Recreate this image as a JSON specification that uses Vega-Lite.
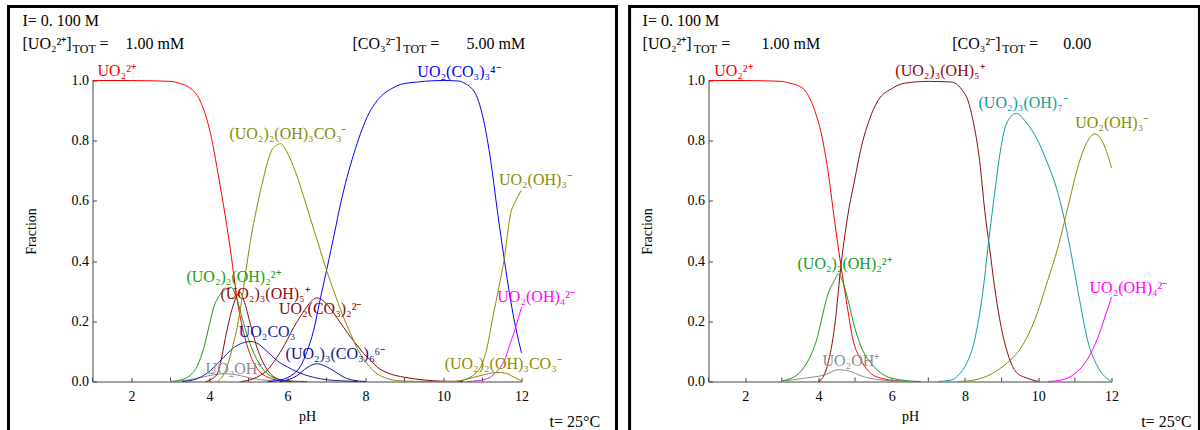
{
  "$schema": "https://vega.github.io/schema/vega-lite/v6.json",
  "padding": {"left": 6.5, "top": 4.5, "right": 0, "bottom": 0},
  "config": {
    "view": {"stroke": null},
    "font": "Liberation Serif",
    "axis": {"labelFont": "Liberation Serif", "titleFont": "Liberation Serif", "labelFontSize": 14, "titleFontSize": 14, "titleFontWeight": "normal", "labelColor": "#000", "titleColor": "#000", "domainColor": "#444", "tickColor": "#444", "grid": false, "tickSize": -4}
  },
  "datasets": {
    "minorTicks": [{"x":1},{"x":3},{"x":5},{"x":7},{"x":9},{"x":11}],
    "curves": [
      {"p":"L","s":"UO₂²⁺","x":1,"y":1},{"p":"L","s":"UO₂²⁺","x":2,"y":1},{"p":"L","s":"UO₂²⁺","x":2.5,"y":0.999},{"p":"L","s":"UO₂²⁺","x":3,"y":0.997},{"p":"L","s":"UO₂²⁺","x":3.25,"y":0.99},{"p":"L","s":"UO₂²⁺","x":3.5,"y":0.975},{"p":"L","s":"UO₂²⁺","x":3.75,"y":0.935},{"p":"L","s":"UO₂²⁺","x":4,"y":0.838},{"p":"L","s":"UO₂²⁺","x":4.25,"y":0.668},{"p":"L","s":"UO₂²⁺","x":4.5,"y":0.47},{"p":"L","s":"UO₂²⁺","x":4.75,"y":0.24},{"p":"L","s":"UO₂²⁺","x":5,"y":0.105},{"p":"L","s":"UO₂²⁺","x":5.25,"y":0.038},{"p":"L","s":"UO₂²⁺","x":5.5,"y":0.014},{"p":"L","s":"UO₂²⁺","x":5.75,"y":0.004},{"p":"L","s":"UO₂²⁺","x":6,"y":0.001},{"p":"L","s":"UO₂²⁺","x":6.5,"y":0},
      {"p":"L","s":"UO₂OH⁺","x":3,"y":0},{"p":"L","s":"UO₂OH⁺","x":3.5,"y":0.006},{"p":"L","s":"UO₂OH⁺","x":3.8,"y":0.014},{"p":"L","s":"UO₂OH⁺","x":4.1,"y":0.022},{"p":"L","s":"UO₂OH⁺","x":4.4,"y":0.026},{"p":"L","s":"UO₂OH⁺","x":4.7,"y":0.022},{"p":"L","s":"UO₂OH⁺","x":5,"y":0.013},{"p":"L","s":"UO₂OH⁺","x":5.3,"y":0.006},{"p":"L","s":"UO₂OH⁺","x":5.7,"y":0.002},{"p":"L","s":"UO₂OH⁺","x":6,"y":0},
      {"p":"L","s":"(UO₂)₂(OH)₂²⁺","x":3,"y":0},{"p":"L","s":"(UO₂)₂(OH)₂²⁺","x":3.25,"y":0.005},{"p":"L","s":"(UO₂)₂(OH)₂²⁺","x":3.5,"y":0.02},{"p":"L","s":"(UO₂)₂(OH)₂²⁺","x":3.7,"y":0.055},{"p":"L","s":"(UO₂)₂(OH)₂²⁺","x":3.85,"y":0.11},{"p":"L","s":"(UO₂)₂(OH)₂²⁺","x":4,"y":0.19},{"p":"L","s":"(UO₂)₂(OH)₂²⁺","x":4.11,"y":0.247},{"p":"L","s":"(UO₂)₂(OH)₂²⁺","x":4.25,"y":0.285},{"p":"L","s":"(UO₂)₂(OH)₂²⁺","x":4.4,"y":0.305},{"p":"L","s":"(UO₂)₂(OH)₂²⁺","x":4.55,"y":0.313},{"p":"L","s":"(UO₂)₂(OH)₂²⁺","x":4.7,"y":0.275},{"p":"L","s":"(UO₂)₂(OH)₂²⁺","x":4.85,"y":0.205},{"p":"L","s":"(UO₂)₂(OH)₂²⁺","x":5,"y":0.14},{"p":"L","s":"(UO₂)₂(OH)₂²⁺","x":5.15,"y":0.09},{"p":"L","s":"(UO₂)₂(OH)₂²⁺","x":5.4,"y":0.037},{"p":"L","s":"(UO₂)₂(OH)₂²⁺","x":5.65,"y":0.012},{"p":"L","s":"(UO₂)₂(OH)₂²⁺","x":6,"y":0.002},{"p":"L","s":"(UO₂)₂(OH)₂²⁺","x":6.3,"y":0},
      {"p":"L","s":"(UO₂)₃(OH)₅⁺","x":3.9,"y":0},{"p":"L","s":"(UO₂)₃(OH)₅⁺","x":4.1,"y":0.012},{"p":"L","s":"(UO₂)₃(OH)₅⁺","x":4.2,"y":0.026},{"p":"L","s":"(UO₂)₃(OH)₅⁺","x":4.28,"y":0.06},{"p":"L","s":"(UO₂)₃(OH)₅⁺","x":4.4,"y":0.14},{"p":"L","s":"(UO₂)₃(OH)₅⁺","x":4.5,"y":0.2},{"p":"L","s":"(UO₂)₃(OH)₅⁺","x":4.6,"y":0.25},{"p":"L","s":"(UO₂)₃(OH)₅⁺","x":4.7,"y":0.285},{"p":"L","s":"(UO₂)₃(OH)₅⁺","x":4.78,"y":0.297},{"p":"L","s":"(UO₂)₃(OH)₅⁺","x":4.88,"y":0.27},{"p":"L","s":"(UO₂)₃(OH)₅⁺","x":5.05,"y":0.19},{"p":"L","s":"(UO₂)₃(OH)₅⁺","x":5.2,"y":0.12},{"p":"L","s":"(UO₂)₃(OH)₅⁺","x":5.31,"y":0.081},{"p":"L","s":"(UO₂)₃(OH)₅⁺","x":5.45,"y":0.045},{"p":"L","s":"(UO₂)₃(OH)₅⁺","x":5.56,"y":0.026},{"p":"L","s":"(UO₂)₃(OH)₅⁺","x":5.8,"y":0.006},{"p":"L","s":"(UO₂)₃(OH)₅⁺","x":6.1,"y":0},
      {"p":"L","s":"UO₂CO₃","x":3.3,"y":0},{"p":"L","s":"UO₂CO₃","x":3.6,"y":0.006},{"p":"L","s":"UO₂CO₃","x":3.85,"y":0.02},{"p":"L","s":"UO₂CO₃","x":4.03,"y":0.037},{"p":"L","s":"UO₂CO₃","x":4.25,"y":0.065},{"p":"L","s":"UO₂CO₃","x":4.45,"y":0.092},{"p":"L","s":"UO₂CO₃","x":4.65,"y":0.115},{"p":"L","s":"UO₂CO₃","x":4.85,"y":0.128},{"p":"L","s":"UO₂CO₃","x":5.05,"y":0.133},{"p":"L","s":"UO₂CO₃","x":5.25,"y":0.125},{"p":"L","s":"UO₂CO₃","x":5.4,"y":0.109},{"p":"L","s":"UO₂CO₃","x":5.6,"y":0.085},{"p":"L","s":"UO₂CO₃","x":5.75,"y":0.068},{"p":"L","s":"UO₂CO₃","x":6,"y":0.048},{"p":"L","s":"UO₂CO₃","x":6.2,"y":0.035},{"p":"L","s":"UO₂CO₃","x":6.45,"y":0.022},{"p":"L","s":"UO₂CO₃","x":6.7,"y":0.013},{"p":"L","s":"UO₂CO₃","x":7,"y":0.006},{"p":"L","s":"UO₂CO₃","x":7.4,"y":0.002},{"p":"L","s":"UO₂CO₃","x":7.8,"y":0},
      {"p":"L","s":"UO₂(CO₃)₂²⁻","x":4.8,"y":0},{"p":"L","s":"UO₂(CO₃)₂²⁻","x":5.1,"y":0.008},{"p":"L","s":"UO₂(CO₃)₂²⁻","x":5.3,"y":0.02},{"p":"L","s":"UO₂(CO₃)₂²⁻","x":5.5,"y":0.04},{"p":"L","s":"UO₂(CO₃)₂²⁻","x":5.7,"y":0.075},{"p":"L","s":"UO₂(CO₃)₂²⁻","x":5.85,"y":0.105},{"p":"L","s":"UO₂(CO₃)₂²⁻","x":6,"y":0.14},{"p":"L","s":"UO₂(CO₃)₂²⁻","x":6.16,"y":0.18},{"p":"L","s":"UO₂(CO₃)₂²⁻","x":6.3,"y":0.21},{"p":"L","s":"UO₂(CO₃)₂²⁻","x":6.45,"y":0.24},{"p":"L","s":"UO₂(CO₃)₂²⁻","x":6.6,"y":0.265},{"p":"L","s":"UO₂(CO₃)₂²⁻","x":6.75,"y":0.278},{"p":"L","s":"UO₂(CO₃)₂²⁻","x":6.9,"y":0.27},{"p":"L","s":"UO₂(CO₃)₂²⁻","x":7.05,"y":0.25},{"p":"L","s":"UO₂(CO₃)₂²⁻","x":7.25,"y":0.215},{"p":"L","s":"UO₂(CO₃)₂²⁻","x":7.45,"y":0.178},{"p":"L","s":"UO₂(CO₃)₂²⁻","x":7.62,"y":0.147},{"p":"L","s":"UO₂(CO₃)₂²⁻","x":7.8,"y":0.118},{"p":"L","s":"UO₂(CO₃)₂²⁻","x":7.96,"y":0.092},{"p":"L","s":"UO₂(CO₃)₂²⁻","x":8.15,"y":0.068},{"p":"L","s":"UO₂(CO₃)₂²⁻","x":8.3,"y":0.048},{"p":"L","s":"UO₂(CO₃)₂²⁻","x":8.6,"y":0.027},{"p":"L","s":"UO₂(CO₃)₂²⁻","x":9,"y":0.014},{"p":"L","s":"UO₂(CO₃)₂²⁻","x":9.5,"y":0.005},{"p":"L","s":"UO₂(CO₃)₂²⁻","x":10,"y":0.001},{"p":"L","s":"UO₂(CO₃)₂²⁻","x":10.5,"y":0},
      {"p":"L","s":"(UO₂)₃(CO₃)₆⁶⁻","x":5.8,"y":0},{"p":"L","s":"(UO₂)₃(CO₃)₆⁶⁻","x":6,"y":0.005},{"p":"L","s":"(UO₂)₃(CO₃)₆⁶⁻","x":6.25,"y":0.02},{"p":"L","s":"(UO₂)₃(CO₃)₆⁶⁻","x":6.5,"y":0.046},{"p":"L","s":"(UO₂)₃(CO₃)₆⁶⁻","x":6.75,"y":0.059},{"p":"L","s":"(UO₂)₃(CO₃)₆⁶⁻","x":6.95,"y":0.052},{"p":"L","s":"(UO₂)₃(CO₃)₆⁶⁻","x":7.1,"y":0.042},{"p":"L","s":"(UO₂)₃(CO₃)₆⁶⁻","x":7.3,"y":0.026},{"p":"L","s":"(UO₂)₃(CO₃)₆⁶⁻","x":7.45,"y":0.014},{"p":"L","s":"(UO₂)₃(CO₃)₆⁶⁻","x":7.7,"y":0.004},{"p":"L","s":"(UO₂)₃(CO₃)₆⁶⁻","x":8,"y":0},
      {"p":"L","s":"UO₂(CO₃)₃⁴⁻","x":5.5,"y":0},{"p":"L","s":"UO₂(CO₃)₃⁴⁻","x":5.82,"y":0.005},{"p":"L","s":"UO₂(CO₃)₃⁴⁻","x":6,"y":0.013},{"p":"L","s":"UO₂(CO₃)₃⁴⁻","x":6.15,"y":0.025},{"p":"L","s":"UO₂(CO₃)₃⁴⁻","x":6.33,"y":0.05},{"p":"L","s":"UO₂(CO₃)₃⁴⁻","x":6.5,"y":0.1},{"p":"L","s":"UO₂(CO₃)₃⁴⁻","x":6.67,"y":0.17},{"p":"L","s":"UO₂(CO₃)₃⁴⁻","x":6.85,"y":0.28},{"p":"L","s":"UO₂(CO₃)₃⁴⁻","x":7.02,"y":0.38},{"p":"L","s":"UO₂(CO₃)₃⁴⁻","x":7.2,"y":0.49},{"p":"L","s":"UO₂(CO₃)₃⁴⁻","x":7.36,"y":0.59},{"p":"L","s":"UO₂(CO₃)₃⁴⁻","x":7.53,"y":0.68},{"p":"L","s":"UO₂(CO₃)₃⁴⁻","x":7.7,"y":0.756},{"p":"L","s":"UO₂(CO₃)₃⁴⁻","x":7.87,"y":0.823},{"p":"L","s":"UO₂(CO₃)₃⁴⁻","x":8.04,"y":0.878},{"p":"L","s":"UO₂(CO₃)₃⁴⁻","x":8.25,"y":0.925},{"p":"L","s":"UO₂(CO₃)₃⁴⁻","x":8.47,"y":0.956},{"p":"L","s":"UO₂(CO₃)₃⁴⁻","x":8.7,"y":0.975},{"p":"L","s":"UO₂(CO₃)₃⁴⁻","x":8.9,"y":0.987},{"p":"L","s":"UO₂(CO₃)₃⁴⁻","x":9.33,"y":0.995},{"p":"L","s":"UO₂(CO₃)₃⁴⁻","x":9.7,"y":0.999},{"p":"L","s":"UO₂(CO₃)₃⁴⁻","x":10,"y":1},{"p":"L","s":"UO₂(CO₃)₃⁴⁻","x":10.4,"y":0.998},{"p":"L","s":"UO₂(CO₃)₃⁴⁻","x":10.55,"y":0.99},{"p":"L","s":"UO₂(CO₃)₃⁴⁻","x":10.69,"y":0.978},{"p":"L","s":"UO₂(CO₃)₃⁴⁻","x":10.86,"y":0.945},{"p":"L","s":"UO₂(CO₃)₃⁴⁻","x":11.03,"y":0.867},{"p":"L","s":"UO₂(CO₃)₃⁴⁻","x":11.21,"y":0.734},{"p":"L","s":"UO₂(CO₃)₃⁴⁻","x":11.38,"y":0.568},{"p":"L","s":"UO₂(CO₃)₃⁴⁻","x":11.55,"y":0.413},{"p":"L","s":"UO₂(CO₃)₃⁴⁻","x":11.72,"y":0.27},{"p":"L","s":"UO₂(CO₃)₃⁴⁻","x":11.85,"y":0.18},{"p":"L","s":"UO₂(CO₃)₃⁴⁻","x":12,"y":0.095},
      {"p":"L","s":"(UO₂)₂(OH)₃CO₃⁻","x":4.2,"y":0},{"p":"L","s":"(UO₂)₂(OH)₃CO₃⁻","x":4.35,"y":0.02},{"p":"L","s":"(UO₂)₂(OH)₃CO₃⁻","x":4.5,"y":0.07},{"p":"L","s":"(UO₂)₂(OH)₃CO₃⁻","x":4.6,"y":0.12},{"p":"L","s":"(UO₂)₂(OH)₃CO₃⁻","x":4.71,"y":0.18},{"p":"L","s":"(UO₂)₂(OH)₃CO₃⁻","x":4.85,"y":0.29},{"p":"L","s":"(UO₂)₂(OH)₃CO₃⁻","x":4.97,"y":0.4},{"p":"L","s":"(UO₂)₂(OH)₃CO₃⁻","x":5.08,"y":0.49},{"p":"L","s":"(UO₂)₂(OH)₃CO₃⁻","x":5.18,"y":0.557},{"p":"L","s":"(UO₂)₂(OH)₃CO₃⁻","x":5.3,"y":0.63},{"p":"L","s":"(UO₂)₂(OH)₃CO₃⁻","x":5.39,"y":0.679},{"p":"L","s":"(UO₂)₂(OH)₃CO₃⁻","x":5.5,"y":0.735},{"p":"L","s":"(UO₂)₂(OH)₃CO₃⁻","x":5.61,"y":0.772},{"p":"L","s":"(UO₂)₂(OH)₃CO₃⁻","x":5.72,"y":0.785},{"p":"L","s":"(UO₂)₂(OH)₃CO₃⁻","x":5.82,"y":0.79},{"p":"L","s":"(UO₂)₂(OH)₃CO₃⁻","x":5.93,"y":0.775},{"p":"L","s":"(UO₂)₂(OH)₃CO₃⁻","x":6.03,"y":0.751},{"p":"L","s":"(UO₂)₂(OH)₃CO₃⁻","x":6.15,"y":0.715},{"p":"L","s":"(UO₂)₂(OH)₃CO₃⁻","x":6.25,"y":0.68},{"p":"L","s":"(UO₂)₂(OH)₃CO₃⁻","x":6.4,"y":0.62},{"p":"L","s":"(UO₂)₂(OH)₃CO₃⁻","x":6.59,"y":0.54},{"p":"L","s":"(UO₂)₂(OH)₃CO₃⁻","x":6.76,"y":0.47},{"p":"L","s":"(UO₂)₂(OH)₃CO₃⁻","x":7,"y":0.37},{"p":"L","s":"(UO₂)₂(OH)₃CO₃⁻","x":7.19,"y":0.3},{"p":"L","s":"(UO₂)₂(OH)₃CO₃⁻","x":7.4,"y":0.225},{"p":"L","s":"(UO₂)₂(OH)₃CO₃⁻","x":7.62,"y":0.158},{"p":"L","s":"(UO₂)₂(OH)₃CO₃⁻","x":7.85,"y":0.095},{"p":"L","s":"(UO₂)₂(OH)₃CO₃⁻","x":8.04,"y":0.059},{"p":"L","s":"(UO₂)₂(OH)₃CO₃⁻","x":8.25,"y":0.03},{"p":"L","s":"(UO₂)₂(OH)₃CO₃⁻","x":8.47,"y":0.014},{"p":"L","s":"(UO₂)₂(OH)₃CO₃⁻","x":8.9,"y":0.002},{"p":"L","s":"(UO₂)₂(OH)₃CO₃⁻","x":9.5,"y":0},{"p":"L","s":"(UO₂)₂(OH)₃CO₃⁻","x":10.3,"y":0},{"p":"L","s":"(UO₂)₂(OH)₃CO₃⁻","x":10.6,"y":0.008},{"p":"L","s":"(UO₂)₂(OH)₃CO₃⁻","x":10.9,"y":0.018},{"p":"L","s":"(UO₂)₂(OH)₃CO₃⁻","x":11.15,"y":0.026},{"p":"L","s":"(UO₂)₂(OH)₃CO₃⁻","x":11.4,"y":0.03},{"p":"L","s":"(UO₂)₂(OH)₃CO₃⁻","x":11.6,"y":0.027},{"p":"L","s":"(UO₂)₂(OH)₃CO₃⁻","x":11.8,"y":0.015},{"p":"L","s":"(UO₂)₂(OH)₃CO₃⁻","x":12,"y":0.002},
      {"p":"L","s":"UO₂(OH)₃⁻","x":10.2,"y":0},{"p":"L","s":"UO₂(OH)₃⁻","x":10.45,"y":0.003},{"p":"L","s":"UO₂(OH)₃⁻","x":10.6,"y":0.009},{"p":"L","s":"UO₂(OH)₃⁻","x":10.8,"y":0.025},{"p":"L","s":"UO₂(OH)₃⁻","x":10.95,"y":0.048},{"p":"L","s":"UO₂(OH)₃⁻","x":11.12,"y":0.114},{"p":"L","s":"UO₂(OH)₃⁻","x":11.25,"y":0.203},{"p":"L","s":"UO₂(OH)₃⁻","x":11.42,"y":0.313},{"p":"L","s":"UO₂(OH)₃⁻","x":11.55,"y":0.4},{"p":"L","s":"UO₂(OH)₃⁻","x":11.72,"y":0.557},{"p":"L","s":"UO₂(OH)₃⁻","x":11.85,"y":0.6},{"p":"L","s":"UO₂(OH)₃⁻","x":12,"y":0.635},
      {"p":"L","s":"UO₂(OH)₄²⁻","x":10.6,"y":0},{"p":"L","s":"UO₂(OH)₄²⁻","x":10.9,"y":0.003},{"p":"L","s":"UO₂(OH)₄²⁻","x":11.12,"y":0.009},{"p":"L","s":"UO₂(OH)₄²⁻","x":11.3,"y":0.025},{"p":"L","s":"UO₂(OH)₄²⁻","x":11.46,"y":0.048},{"p":"L","s":"UO₂(OH)₄²⁻","x":11.58,"y":0.075},{"p":"L","s":"UO₂(OH)₄²⁻","x":11.68,"y":0.114},{"p":"L","s":"UO₂(OH)₄²⁻","x":11.85,"y":0.18},{"p":"L","s":"UO₂(OH)₄²⁻","x":12,"y":0.247},

      {"p":"R","s":"UO₂²⁺","x":1,"y":1},{"p":"R","s":"UO₂²⁺","x":2,"y":1},{"p":"R","s":"UO₂²⁺","x":2.5,"y":0.999},{"p":"R","s":"UO₂²⁺","x":3,"y":0.997},{"p":"R","s":"UO₂²⁺","x":3.25,"y":0.99},{"p":"R","s":"UO₂²⁺","x":3.45,"y":0.983},{"p":"R","s":"UO₂²⁺","x":3.67,"y":0.961},{"p":"R","s":"UO₂²⁺","x":3.9,"y":0.9},{"p":"R","s":"UO₂²⁺","x":4.08,"y":0.823},{"p":"R","s":"UO₂²⁺","x":4.26,"y":0.7},{"p":"R","s":"UO₂²⁺","x":4.44,"y":0.535},{"p":"R","s":"UO₂²⁺","x":4.58,"y":0.413},{"p":"R","s":"UO₂²⁺","x":4.76,"y":0.27},{"p":"R","s":"UO₂²⁺","x":4.95,"y":0.136},{"p":"R","s":"UO₂²⁺","x":5.17,"y":0.07},{"p":"R","s":"UO₂²⁺","x":5.45,"y":0.025},{"p":"R","s":"UO₂²⁺","x":5.81,"y":0.008},{"p":"R","s":"UO₂²⁺","x":6.17,"y":0.002},{"p":"R","s":"UO₂²⁺","x":6.5,"y":0},
      {"p":"R","s":"UO₂OH⁺","x":3,"y":0},{"p":"R","s":"UO₂OH⁺","x":3.54,"y":0.01},{"p":"R","s":"UO₂OH⁺","x":4.17,"y":0.022},{"p":"R","s":"UO₂OH⁺","x":4.54,"y":0.039},{"p":"R","s":"UO₂OH⁺","x":4.76,"y":0.037},{"p":"R","s":"UO₂OH⁺","x":5.26,"y":0.015},{"p":"R","s":"UO₂OH⁺","x":5.8,"y":0.004},{"p":"R","s":"UO₂OH⁺","x":6.5,"y":0},
      {"p":"R","s":"(UO₂)₂(OH)₂²⁺","x":3,"y":0.002},{"p":"R","s":"(UO₂)₂(OH)₂²⁺","x":3.2,"y":0.008},{"p":"R","s":"(UO₂)₂(OH)₂²⁺","x":3.45,"y":0.025},{"p":"R","s":"(UO₂)₂(OH)₂²⁺","x":3.65,"y":0.055},{"p":"R","s":"(UO₂)₂(OH)₂²⁺","x":3.81,"y":0.092},{"p":"R","s":"(UO₂)₂(OH)₂²⁺","x":4,"y":0.16},{"p":"R","s":"(UO₂)₂(OH)₂²⁺","x":4.08,"y":0.203},{"p":"R","s":"(UO₂)₂(OH)₂²⁺","x":4.26,"y":0.29},{"p":"R","s":"(UO₂)₂(OH)₂²⁺","x":4.44,"y":0.336},{"p":"R","s":"(UO₂)₂(OH)₂²⁺","x":4.54,"y":0.358},{"p":"R","s":"(UO₂)₂(OH)₂²⁺","x":4.67,"y":0.33},{"p":"R","s":"(UO₂)₂(OH)₂²⁺","x":4.81,"y":0.27},{"p":"R","s":"(UO₂)₂(OH)₂²⁺","x":4.99,"y":0.18},{"p":"R","s":"(UO₂)₂(OH)₂²⁺","x":5.17,"y":0.114},{"p":"R","s":"(UO₂)₂(OH)₂²⁺","x":5.45,"y":0.059},{"p":"R","s":"(UO₂)₂(OH)₂²⁺","x":5.81,"y":0.02},{"p":"R","s":"(UO₂)₂(OH)₂²⁺","x":6.26,"y":0.005},{"p":"R","s":"(UO₂)₂(OH)₂²⁺","x":6.8,"y":0},
      {"p":"R","s":"(UO₂)₃(OH)₅⁺","x":3.99,"y":0},{"p":"R","s":"(UO₂)₃(OH)₅⁺","x":4.1,"y":0.01},{"p":"R","s":"(UO₂)₃(OH)₅⁺","x":4.26,"y":0.059},{"p":"R","s":"(UO₂)₃(OH)₅⁺","x":4.44,"y":0.18},{"p":"R","s":"(UO₂)₃(OH)₅⁺","x":4.63,"y":0.4},{"p":"R","s":"(UO₂)₃(OH)₅⁺","x":4.81,"y":0.557},{"p":"R","s":"(UO₂)₃(OH)₅⁺","x":4.99,"y":0.67},{"p":"R","s":"(UO₂)₃(OH)₅⁺","x":5.17,"y":0.778},{"p":"R","s":"(UO₂)₃(OH)₅⁺","x":5.4,"y":0.873},{"p":"R","s":"(UO₂)₃(OH)₅⁺","x":5.63,"y":0.934},{"p":"R","s":"(UO₂)₃(OH)₅⁺","x":5.99,"y":0.972},{"p":"R","s":"(UO₂)₃(OH)₅⁺","x":6.35,"y":0.991},{"p":"R","s":"(UO₂)₃(OH)₅⁺","x":7,"y":0.997},{"p":"R","s":"(UO₂)₃(OH)₅⁺","x":7.63,"y":0.995},{"p":"R","s":"(UO₂)₃(OH)₅⁺","x":7.9,"y":0.972},{"p":"R","s":"(UO₂)₃(OH)₅⁺","x":8.08,"y":0.934},{"p":"R","s":"(UO₂)₃(OH)₅⁺","x":8.22,"y":0.867},{"p":"R","s":"(UO₂)₃(OH)₅⁺","x":8.4,"y":0.734},{"p":"R","s":"(UO₂)₃(OH)₅⁺","x":8.54,"y":0.568},{"p":"R","s":"(UO₂)₃(OH)₅⁺","x":8.67,"y":0.446},{"p":"R","s":"(UO₂)₃(OH)₅⁺","x":8.81,"y":0.313},{"p":"R","s":"(UO₂)₃(OH)₅⁺","x":8.99,"y":0.18},{"p":"R","s":"(UO₂)₃(OH)₅⁺","x":9.17,"y":0.092},{"p":"R","s":"(UO₂)₃(OH)₅⁺","x":9.4,"y":0.031},{"p":"R","s":"(UO₂)₃(OH)₅⁺","x":9.72,"y":0.01},{"p":"R","s":"(UO₂)₃(OH)₅⁺","x":10,"y":0},
      {"p":"R","s":"(UO₂)₃(OH)₇⁻","x":7.26,"y":0},{"p":"R","s":"(UO₂)₃(OH)₇⁻","x":7.63,"y":0.005},{"p":"R","s":"(UO₂)₃(OH)₇⁻","x":7.85,"y":0.025},{"p":"R","s":"(UO₂)₃(OH)₇⁻","x":8.04,"y":0.059},{"p":"R","s":"(UO₂)₃(OH)₇⁻","x":8.26,"y":0.136},{"p":"R","s":"(UO₂)₃(OH)₇⁻","x":8.49,"y":0.3},{"p":"R","s":"(UO₂)₃(OH)₇⁻","x":8.67,"y":0.49},{"p":"R","s":"(UO₂)₃(OH)₇⁻","x":8.81,"y":0.624},{"p":"R","s":"(UO₂)₃(OH)₇⁻","x":8.94,"y":0.745},{"p":"R","s":"(UO₂)₃(OH)₇⁻","x":9.13,"y":0.856},{"p":"R","s":"(UO₂)₃(OH)₇⁻","x":9.4,"y":0.891},{"p":"R","s":"(UO₂)₃(OH)₇⁻","x":9.67,"y":0.861},{"p":"R","s":"(UO₂)₃(OH)₇⁻","x":9.99,"y":0.8},{"p":"R","s":"(UO₂)₃(OH)₇⁻","x":10.26,"y":0.723},{"p":"R","s":"(UO₂)₃(OH)₇⁻","x":10.49,"y":0.646},{"p":"R","s":"(UO₂)₃(OH)₇⁻","x":10.72,"y":0.535},{"p":"R","s":"(UO₂)₃(OH)₇⁻","x":10.9,"y":0.424},{"p":"R","s":"(UO₂)₃(OH)₇⁻","x":11.13,"y":0.27},{"p":"R","s":"(UO₂)₃(OH)₇⁻","x":11.35,"y":0.136},{"p":"R","s":"(UO₂)₃(OH)₇⁻","x":11.63,"y":0.048},{"p":"R","s":"(UO₂)₃(OH)₇⁻","x":12,"y":0},
      {"p":"R","s":"UO₂(OH)₃⁻","x":7.81,"y":0},{"p":"R","s":"UO₂(OH)₃⁻","x":8.26,"y":0.005},{"p":"R","s":"UO₂(OH)₃⁻","x":8.72,"y":0.025},{"p":"R","s":"UO₂(OH)₃⁻","x":9.17,"y":0.064},{"p":"R","s":"UO₂(OH)₃⁻","x":9.54,"y":0.114},{"p":"R","s":"UO₂(OH)₃⁻","x":9.9,"y":0.203},{"p":"R","s":"UO₂(OH)₃⁻","x":10.26,"y":0.336},{"p":"R","s":"UO₂(OH)₃⁻","x":10.54,"y":0.446},{"p":"R","s":"UO₂(OH)₃⁻","x":10.81,"y":0.579},{"p":"R","s":"UO₂(OH)₃⁻","x":11.08,"y":0.712},{"p":"R","s":"UO₂(OH)₃⁻","x":11.31,"y":0.79},{"p":"R","s":"UO₂(OH)₃⁻","x":11.55,"y":0.823},{"p":"R","s":"UO₂(OH)₃⁻","x":11.78,"y":0.79},{"p":"R","s":"UO₂(OH)₃⁻","x":12,"y":0.71},
      {"p":"R","s":"UO₂(OH)₄²⁻","x":10.26,"y":0},{"p":"R","s":"UO₂(OH)₄²⁻","x":10.63,"y":0.005},{"p":"R","s":"UO₂(OH)₄²⁻","x":10.99,"y":0.025},{"p":"R","s":"UO₂(OH)₄²⁻","x":11.35,"y":0.075},{"p":"R","s":"UO₂(OH)₄²⁻","x":11.63,"y":0.147},{"p":"R","s":"UO₂(OH)₄²⁻","x":11.85,"y":0.225},{"p":"R","s":"UO₂(OH)₄²⁻","x":12,"y":0.28}
    ],
    "labels": [
      {"p":"L","s":"UO₂²⁺","x":1.13,"y":1.033},
      {"p":"L","s":"(UO₂)₂(OH)₃CO₃⁻","x":4.51,"y":0.823},
      {"p":"L","s":"UO₂(CO₃)₃⁴⁻","x":9.33,"y":1.028},
      {"p":"L","s":"UO₂(OH)₃⁻","x":11.42,"y":0.668},
      {"p":"L","s":"UO₂(OH)₄²⁻","x":11.38,"y":0.28},
      {"p":"L","s":"(UO₂)₂(OH)₃CO₃⁻","x":10.03,"y":0.059},
      {"p":"L","s":"(UO₂)₂(OH)₂²⁺","x":3.41,"y":0.347},
      {"p":"L","s":"(UO₂)₃(OH)₅⁺","x":4.28,"y":0.291},
      {"p":"L","s":"UO₂(CO₃)₂²⁻","x":5.78,"y":0.241},
      {"p":"L","s":"UO₂CO₃","x":4.75,"y":0.164},
      {"p":"L","s":"(UO₂)₃(CO₃)₆⁶⁻","x":5.95,"y":0.09},
      {"p":"L","s":"UO₂OH⁺","x":3.9,"y":0.042},
      {"p":"R","s":"UO₂²⁺","x":1.155,"y":1.033},
      {"p":"R","s":"(UO₂)₃(OH)₅⁺","x":6.1,"y":1.03},
      {"p":"R","s":"(UO₂)₃(OH)₇⁻","x":8.37,"y":0.925},
      {"p":"R","s":"UO₂(OH)₃⁻","x":11.01,"y":0.86},
      {"p":"R","s":"UO₂(OH)₄²⁻","x":11.4,"y":0.311},
      {"p":"R","s":"(UO₂)₂(OH)₂²⁺","x":3.43,"y":0.389},
      {"p":"R","s":"UO₂OH⁺","x":4.11,"y":0.067}
    ],
    "notes": [
      {"p":"L","r":"main","t":"I= 0. 100 M","x":-0.795,"y":1.199},
      {"p":"L","r":"main","t":"[UO₂²⁺]","x":-0.795,"y":1.12},
      {"p":"L","r":"sub","t":"TOT","x":0.49,"y":1.103},
      {"p":"L","r":"main","t":"=","x":1.18,"y":1.12},
      {"p":"L","r":"main","t":"1.00 mM","x":1.846,"y":1.12},
      {"p":"L","r":"main","t":"[CO₃²⁻]","x":7.667,"y":1.12},
      {"p":"L","r":"sub","t":"TOT","x":8.97,"y":1.103},
      {"p":"L","r":"main","t":"=","x":9.66,"y":1.12},
      {"p":"L","r":"main","t":"5.00 mM","x":10.59,"y":1.12},
      {"p":"L","r":"main","t":"t= 25°C","x":12.72,"y":-0.133},
      {"p":"R","r":"main","t":"I= 0. 100 M","x":-0.8,"y":1.199},
      {"p":"R","r":"main","t":"[UO₂²⁺]","x":-0.8,"y":1.12},
      {"p":"R","r":"sub","t":"TOT","x":0.6,"y":1.103},
      {"p":"R","r":"main","t":"=","x":1.35,"y":1.12},
      {"p":"R","r":"main","t":"1.00 mM","x":2.445,"y":1.12},
      {"p":"R","r":"main","t":"[CO₃²⁻]","x":7.654,"y":1.12},
      {"p":"R","r":"sub","t":"TOT","x":9.02,"y":1.103},
      {"p":"R","r":"main","t":"=","x":9.75,"y":1.12},
      {"p":"R","r":"main","t":"0.00","x":10.68,"y":1.12},
      {"p":"R","r":"main","t":"t= 25°C","x":12.81,"y":-0.133}
    ]
  },
  "spacing": 9,
  "hconcat": [
    {
      "width": 429, "height": 301,
      "layer": [
        {"data": {"values": [{}]},
         "mark": {"type": "rect", "fill": null, "fillOpacity": 0, "stroke": "#000", "strokeWidth": 3, "clip": false},
         "encoding": {
           "x": {"datum": -1.154, "type": "quantitative", "scale": {"domain": [1, 12], "nice": false, "zero": false}},
           "x2": {"datum": 14.436},
           "y": {"datum": 1.2458, "type": "quantitative", "scale": {"domain": [0, 1], "nice": false, "zero": false}},
           "y2": {"datum": -0.25}}},
        {"data": {"name": "minorTicks"},
         "mark": {"type": "rule", "color": "#444", "strokeWidth": 1},
         "encoding": {"x": {"field": "x", "type": "quantitative"}, "y": {"datum": 0, "type": "quantitative"}, "y2": {"datum": 0.0133}}},
        {"data": {"name": "curves"}, "transform": [{"filter": "datum.p == 'L'"}],
         "mark": {"type": "line", "strokeWidth": 1, "interpolate": "monotone", "clip": false},
         "encoding": {
           "x": {"field": "x", "type": "quantitative", "axis": {"title": "pH", "values": [2,4,6,8,10,12], "format": "d", "labelOverlap": false, "labelFlush": false, "labelPadding": 12, "titlePadding": 6}},
           "y": {"field": "y", "type": "quantitative", "axis": {"title": "Fraction", "values": [0,0.1,0.2,0.3,0.4,0.5,0.6,0.7,0.8,0.9,1], "labelExpr": "round(datum.value*10) % 2 == 0 ? format(datum.value, '.1f') : ''", "labelOverlap": false, "labelPadding": 8, "titlePadding": 33}},
           "color": {"field": "s", "type": "nominal", "legend": null, "scale": {"domain": ["UO₂²⁺","UO₂OH⁺","(UO₂)₂(OH)₂²⁺","(UO₂)₃(OH)₅⁺","(UO₂)₃(OH)₇⁻","UO₂(OH)₃⁻","UO₂(OH)₄²⁻","UO₂CO₃","UO₂(CO₃)₂²⁻","UO₂(CO₃)₃⁴⁻","(UO₂)₂(OH)₃CO₃⁻","(UO₂)₃(CO₃)₆⁶⁻"], "range": ["#ff0000","#8c8c8c","#169b16","#8b0a0a","#129a9a","#8a8a00","#ff00ff","#1a1aa8","#8b0a0a","#0000ff","#8a8a00","#10108e"]}}}},
        {"data": {"name": "labels"}, "transform": [{"filter": "datum.p == 'L'"}],
         "mark": {"type": "text", "align": "left", "baseline": "middle", "fontSize": 16, "font": "Liberation Serif", "clip": false},
         "encoding": {"x": {"field": "x", "type": "quantitative"}, "y": {"field": "y", "type": "quantitative"}, "text": {"field": "s"}, "color": {"field": "s", "type": "nominal", "legend": null}}},
        {"data": {"name": "notes"}, "transform": [{"filter": "datum.p == 'L' && datum.r == 'main'"}],
         "mark": {"type": "text", "align": "left", "baseline": "middle", "fontSize": 16, "font": "Liberation Serif", "color": "#000", "clip": false},
         "encoding": {"x": {"field": "x", "type": "quantitative"}, "y": {"field": "y", "type": "quantitative"}, "text": {"field": "t"}}},
        {"data": {"name": "notes"}, "transform": [{"filter": "datum.p == 'L' && datum.r == 'sub'"}],
         "mark": {"type": "text", "align": "left", "baseline": "middle", "fontSize": 12, "font": "Liberation Serif", "color": "#000", "clip": false},
         "encoding": {"x": {"field": "x", "type": "quantitative"}, "y": {"field": "y", "type": "quantitative"}, "text": {"field": "t"}}}
      ]
    },
    {
      "width": 403, "height": 301,
      "layer": [
        {"data": {"values": [{}]},
         "mark": {"type": "rect", "fill": null, "fillOpacity": 0, "stroke": "#000", "strokeWidth": 3, "clip": false},
         "encoding": {
           "x": {"datum": -1.154, "type": "quantitative", "scale": {"domain": [1, 12], "nice": false, "zero": false}},
           "x2": {"datum": 14.4},
           "y": {"datum": 1.2458, "type": "quantitative", "scale": {"domain": [0, 1], "nice": false, "zero": false}},
           "y2": {"datum": -0.25}}},
        {"data": {"name": "minorTicks"},
         "mark": {"type": "rule", "color": "#444", "strokeWidth": 1},
         "encoding": {"x": {"field": "x", "type": "quantitative"}, "y": {"datum": 0, "type": "quantitative"}, "y2": {"datum": 0.0133}}},
        {"data": {"name": "curves"}, "transform": [{"filter": "datum.p == 'R'"}],
         "mark": {"type": "line", "strokeWidth": 1, "interpolate": "monotone", "clip": false},
         "encoding": {
           "x": {"field": "x", "type": "quantitative", "axis": {"title": "pH", "values": [2,4,6,8,10,12], "format": "d", "labelOverlap": false, "labelFlush": false, "labelPadding": 12, "titlePadding": 6}},
           "y": {"field": "y", "type": "quantitative", "axis": {"title": "Fraction", "values": [0,0.1,0.2,0.3,0.4,0.5,0.6,0.7,0.8,0.9,1], "labelExpr": "round(datum.value*10) % 2 == 0 ? format(datum.value, '.1f') : ''", "labelOverlap": false, "labelPadding": 8, "titlePadding": 33}},
           "color": {"field": "s", "type": "nominal", "legend": null, "scale": {"domain": ["UO₂²⁺","UO₂OH⁺","(UO₂)₂(OH)₂²⁺","(UO₂)₃(OH)₅⁺","(UO₂)₃(OH)₇⁻","UO₂(OH)₃⁻","UO₂(OH)₄²⁻","UO₂CO₃","UO₂(CO₃)₂²⁻","UO₂(CO₃)₃⁴⁻","(UO₂)₂(OH)₃CO₃⁻","(UO₂)₃(CO₃)₆⁶⁻"], "range": ["#ff0000","#8c8c8c","#169b16","#8b0a0a","#129a9a","#8a8a00","#ff00ff","#1a1aa8","#8b0a0a","#0000ff","#8a8a00","#10108e"]}}}},
        {"data": {"name": "labels"}, "transform": [{"filter": "datum.p == 'R'"}],
         "mark": {"type": "text", "align": "left", "baseline": "middle", "fontSize": 16, "font": "Liberation Serif", "clip": false},
         "encoding": {"x": {"field": "x", "type": "quantitative"}, "y": {"field": "y", "type": "quantitative"}, "text": {"field": "s"}, "color": {"field": "s", "type": "nominal", "legend": null}}},
        {"data": {"name": "notes"}, "transform": [{"filter": "datum.p == 'R' && datum.r == 'main'"}],
         "mark": {"type": "text", "align": "left", "baseline": "middle", "fontSize": 16, "font": "Liberation Serif", "color": "#000", "clip": false},
         "encoding": {"x": {"field": "x", "type": "quantitative"}, "y": {"field": "y", "type": "quantitative"}, "text": {"field": "t"}}},
        {"data": {"name": "notes"}, "transform": [{"filter": "datum.p == 'R' && datum.r == 'sub'"}],
         "mark": {"type": "text", "align": "left", "baseline": "middle", "fontSize": 12, "font": "Liberation Serif", "color": "#000", "clip": false},
         "encoding": {"x": {"field": "x", "type": "quantitative"}, "y": {"field": "y", "type": "quantitative"}, "text": {"field": "t"}}}
      ]
    }
  ]
}
